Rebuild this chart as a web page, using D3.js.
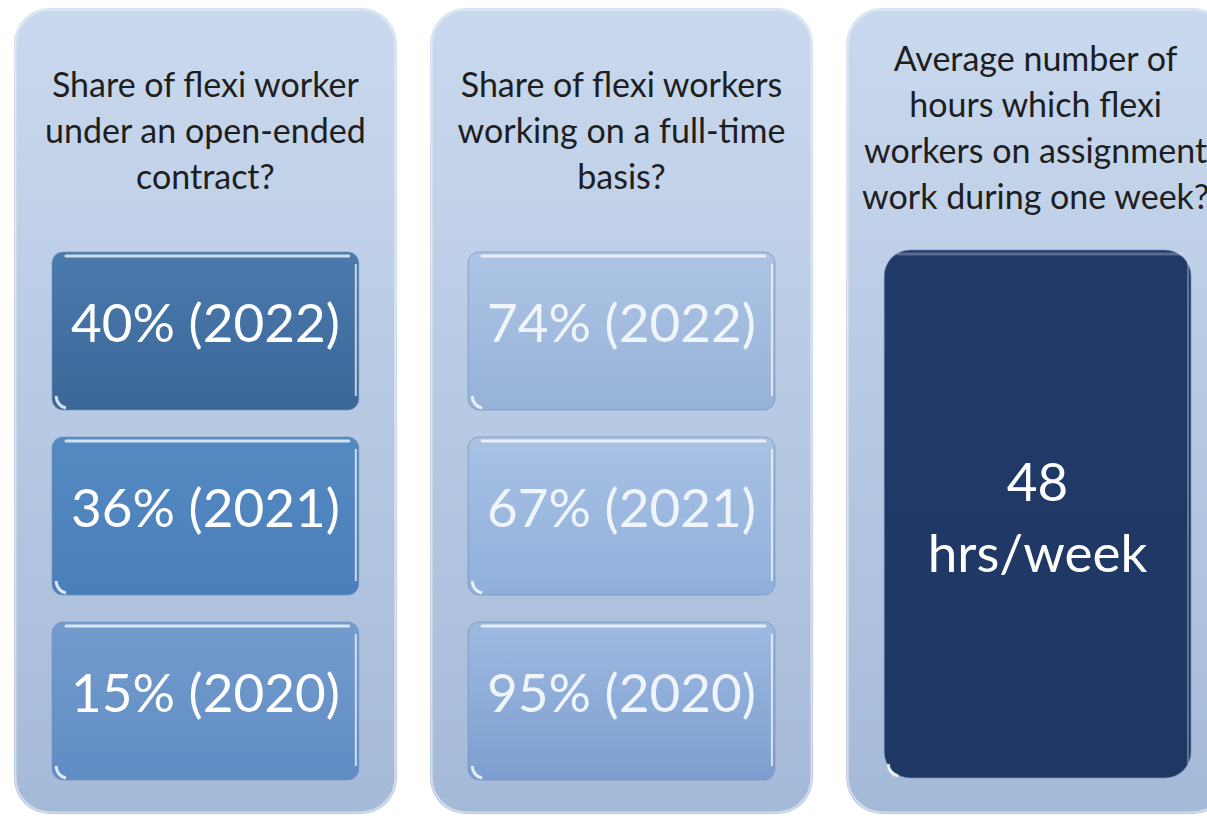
<!DOCTYPE html>
<html lang="en">
<head>
    <meta charset="UTF-8">
    <title>Flexi workers</title>
    <style>
        body { margin: 0; background: #fff; }
        svg { display: block; }
        text { font-family: Lato, "Open Sans", sans-serif; }
    </style>
</head>
<body>
    <div id="content"></div>
    <script src="https://d3js.org/d3.v7.min.js"></script>
    <script>
        // panel headers (one array of lines per panel)
        var headers = [
            ["Share of flexi worker", "under an open-ended", "contract?"],
            ["Share of flexi workers", "working on a full-time", "basis?"],
            ["Average number of", "hours which flexi", "workers on assignment", "work during one week?"]
        ];
        var years = ["2022", "2021", "2020"];
        var openEnded = [40, 36, 15];
        var fullTime = [74, 67, 95];
        var avgHours = 48;

        var boxColors = [
            [["#4b7aad", "#3a6798"], ["#5589c2", "#4a7fb9"], ["#749ccd", "#5f8cc3"]],
            [["#adc4e4", "#97b2d8"], ["#a9c2e4", "#8fafdb"], ["#9fbae1", "#7c9ecf"]],
            [["#223a68", "#1f3763"]]
        ];
        var textColors = ["#ffffff", "#f0f5fc", "#ffffff"];

        var W = 1207, H = 816;
        var svg = d3.select("#content").append("svg")
            .attr("width", W).attr("height", H);
        var defs = svg.append("defs");

        var px = d3.scaleBand().domain([0, 1, 2]).range([14, 1229]).paddingInner(0.08);
        var ry = d3.scaleBand().domain([0, 1, 2]).range([252, 780]).paddingInner(0.146);
        var inset = 38;

        var pg = defs.append("linearGradient").attr("id", "pg")
            .attr("x1", 0).attr("y1", 0).attr("x2", 0).attr("y2", 1);
        pg.append("stop").attr("offset", 0).attr("stop-color", "#c9d9ee");
        pg.append("stop").attr("offset", 1).attr("stop-color", "#a5bad8");

        function grad(id, c) {
            var g = defs.append("linearGradient").attr("id", id)
                .attr("x1", 0).attr("y1", 0).attr("x2", 0).attr("y2", 1);
            g.append("stop").attr("offset", 0).attr("stop-color", c[0]);
            g.append("stop").attr("offset", 1).attr("stop-color", c[1]);
            return "url(#" + id + ")";
        }

        var panels = headers.map(function (h, i) {
            var rows;
            if (i === 0) rows = openEnded.map(function (v, j) { return [v + "% (" + years[j] + ")"]; });
            else if (i === 1) rows = fullTime.map(function (v, j) { return [v + "% (" + years[j] + ")"]; });
            else rows = [[String(avgHours), "hrs/week"]];
            return { i: i, header: h, rows: rows };
        });

        var panel = svg.selectAll("g.panel").data(panels).enter().append("g")
            .attr("class", "panel")
            .attr("transform", function (d) { return "translate(" + px(d.i) + ",0)"; });

        // panel background
        panel.append("rect")
            .attr("x", 0).attr("y", 8)
            .attr("width", px.bandwidth()).attr("height", 806)
            .attr("rx", 36)
            .attr("fill", "url(#pg)");
        panel.append("rect")
            .attr("x", 1.5).attr("y", 9.5)
            .attr("width", px.bandwidth() - 3).attr("height", 803)
            .attr("rx", 35)
            .attr("fill", "none")
            .attr("stroke", "#eef3fa").attr("stroke-opacity", 0.6).attr("stroke-width", 2);

        // header text
        panel.each(function (d) {
            var g = d3.select(this);
            var n = d.header.length;
            var y0 = n === 4 ? 71 : 97;
            g.selectAll("text.hd").data(d.header).enter().append("text")
                .attr("class", "hd")
                .attr("x", px.bandwidth() / 2 + (d.i === 2 ? -2 : 0))
                .attr("y", function (t, k) { return y0 + k * 46; })
                .attr("text-anchor", "middle")
                .attr("font-size", 34)
                .attr("fill", "#1e1e1e")
                .text(function (t) { return t; });
        });

        // value boxes
        panel.each(function (d) {
            var g = d3.select(this);
            var bw = px.bandwidth() - 2 * inset;
            d.rows.forEach(function (lines, j) {
                var single = d.rows.length === 1;
                var y = single ? ry(0) - 2 : ry(j);
                var h = single ? ry(2) + ry.bandwidth() - ry(0) : ry.bandwidth();
                var fill = grad("b" + d.i + "_" + j, boxColors[d.i][j]);
                var b = g.append("g").attr("transform", "translate(" + inset + "," + y + ")");
                b.append("rect")
                    .attr("width", bw).attr("height", h)
                    .attr("rx", single ? 26 : 11)
                    .attr("fill", fill)
                    .attr("stroke", "#7391ba").attr("stroke-opacity", 0.7).attr("stroke-width", 1);
                // glossy highlights
                b.append("line")
                    .attr("x1", 14).attr("x2", bw - 10)
                    .attr("y1", 4).attr("y2", 4)
                    .attr("stroke", "#ffffff").attr("stroke-opacity", single ? 0.25 : 0.75)
                    .attr("stroke-width", 3).attr("stroke-linecap", "round");
                b.append("line")
                    .attr("x1", bw - 3).attr("x2", bw - 3)
                    .attr("y1", 12).attr("y2", h - 14)
                    .attr("stroke", "#ffffff").attr("stroke-opacity", single ? 0.3 : 0.7)
                    .attr("stroke-width", 2);
                b.append("path")
                    .attr("d", "M4," + (h - 14) + " Q5," + (h - 4) + " 14," + (h - 2))
                    .attr("fill", "none")
                    .attr("stroke", "#ffffff").attr("stroke-opacity", 0.8)
                    .attr("stroke-width", 3);

                var cy = h / 2;
                lines.forEach(function (t, k) {
                    var off = lines.length === 1 ? 11 : (k === 0 ? -13 : 58);
                    b.append("text")
                        .attr("x", bw / 2)
                        .attr("y", cy + off)
                        .attr("text-anchor", "middle")
                        .attr("font-size", 53)
                        .attr("fill", textColors[d.i])
                        .text(t);
                });
            });
        });
    </script>
</body>
</html>
